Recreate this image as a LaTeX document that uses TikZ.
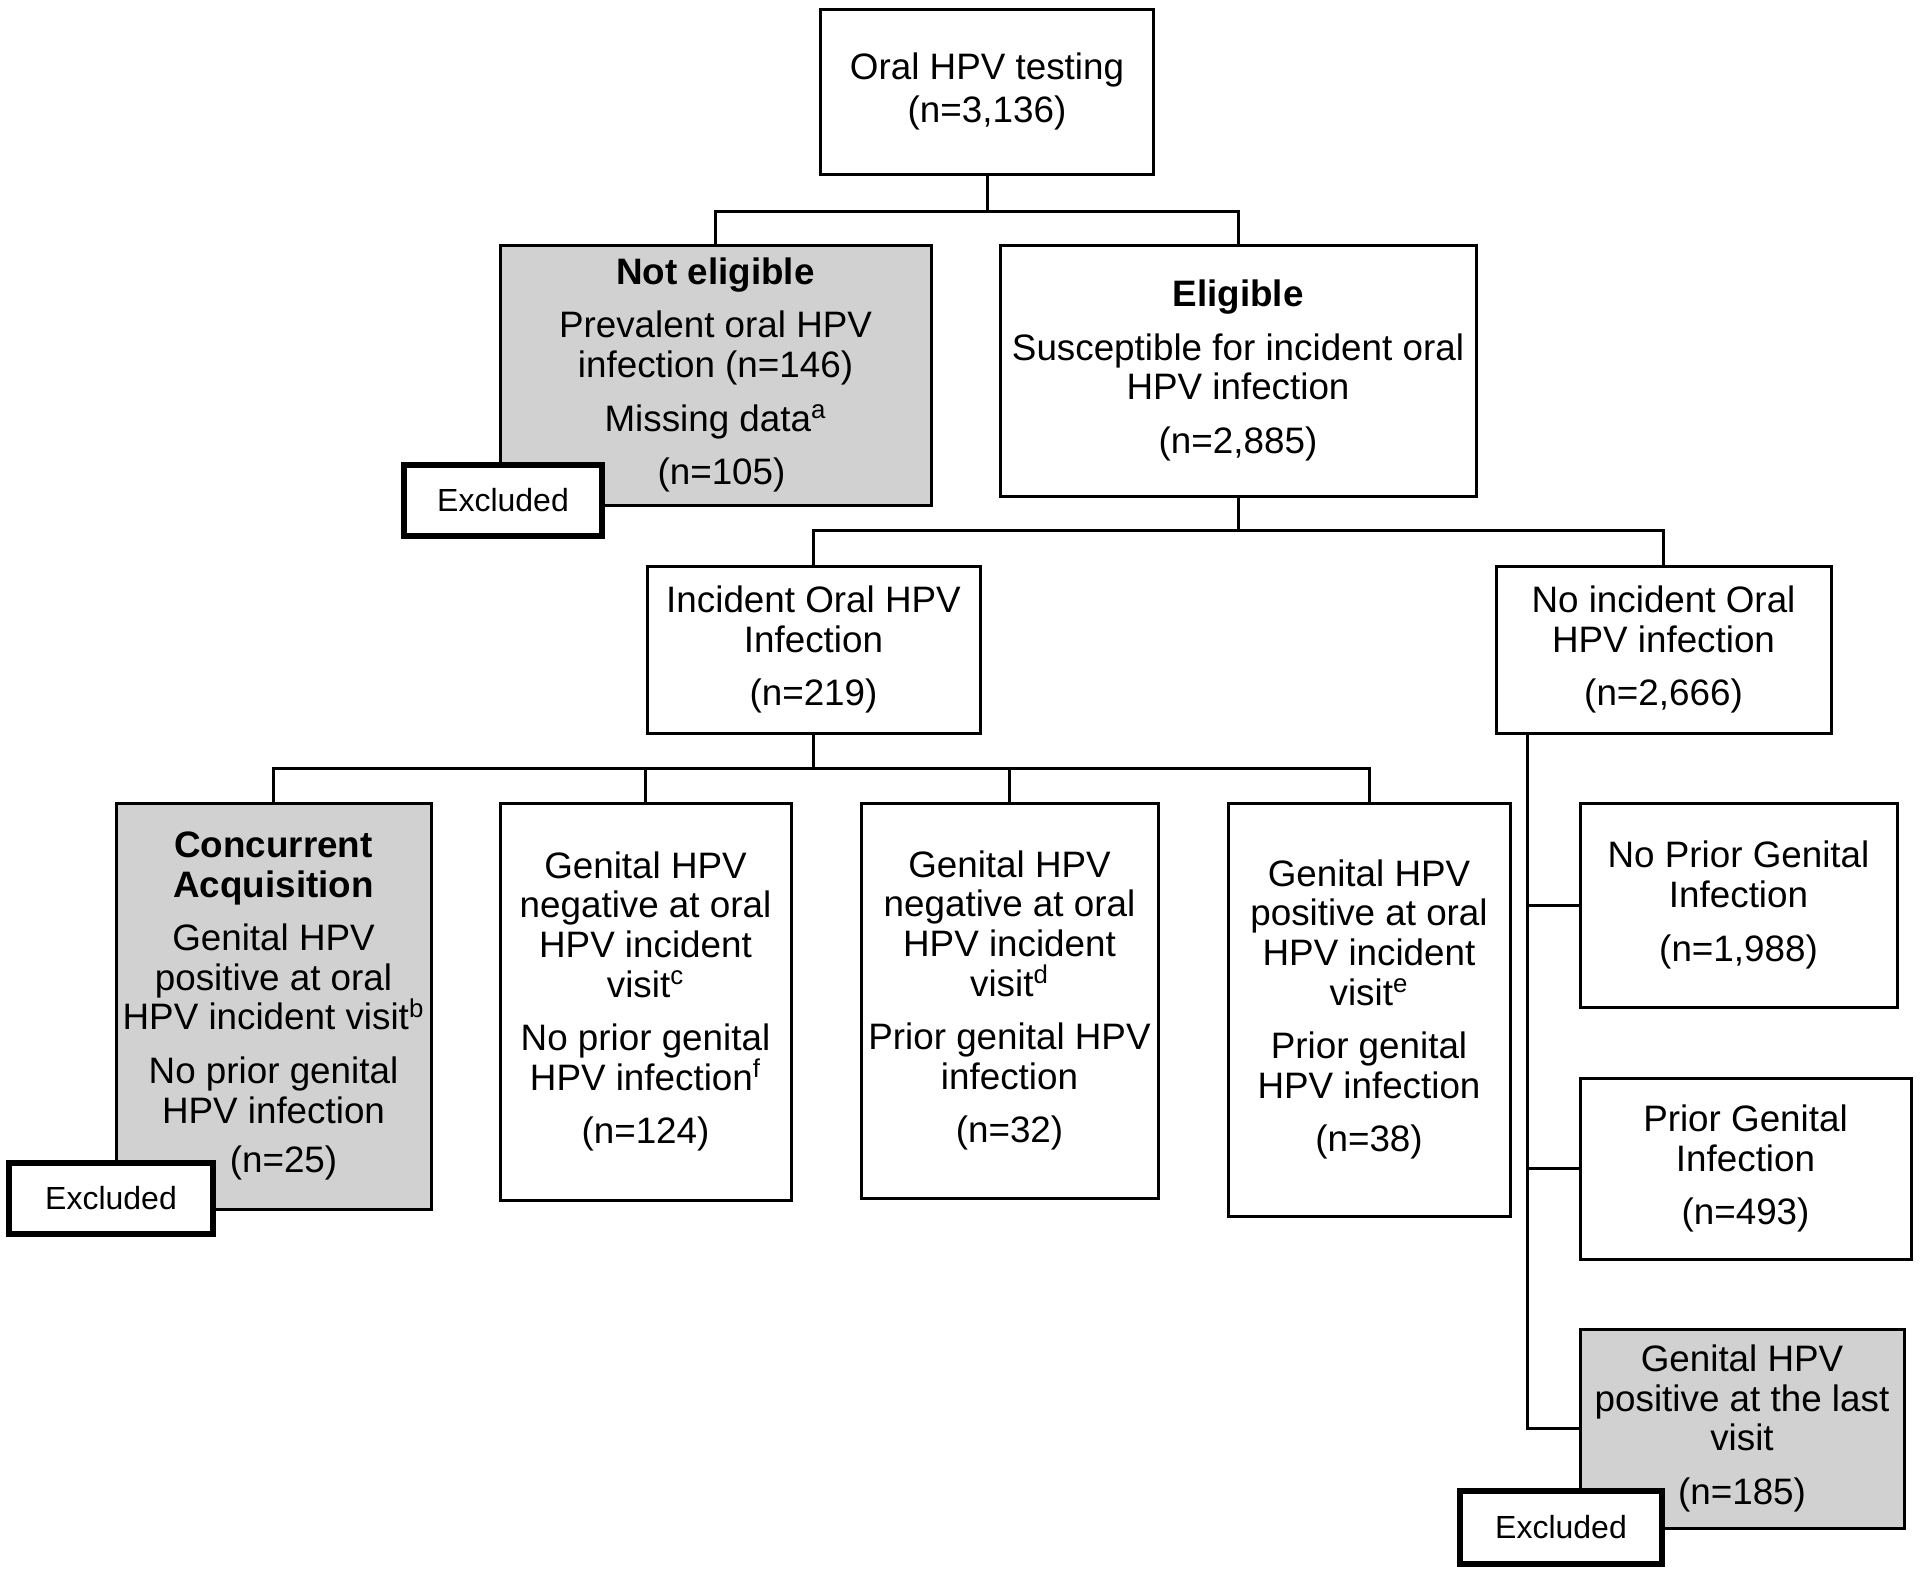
\documentclass[tikz,border=0pt]{standalone}
\usepackage{fontspec}
\setmainfont{Liberation Sans}
\usetikzlibrary{calc}
\definecolor{boxgrey}{RGB}{209,209,209}
\tikzset{every node/.style={inner sep=0pt,align=center,font=\fontsize{18.4}{19.8}\selectfont},
  box/.style={draw,line width=1.5pt,fill=white},
  greybox/.style={box,fill=boxgrey},
  exclbox/.style={draw,line width=2.6pt,fill=white,minimum height=35.5pt,font=\fontsize{16}{18}\selectfont},
  link/.style={line width=1.5pt}}

\begin{document}
\begin{tikzpicture}[x=0.5pt,y=-0.5pt]
  \useasboundingbox (0,0) rectangle (1920,1571);
  % top row
  \node[box,minimum width=166.5pt,minimum height=82.5pt] (test) at (987,91.5) {Oral HPV testing\\[2pt](n=3,136)};
  \node[greybox,minimum width=215.5pt,minimum height=130pt] (noteli) at (715.5,375) {\textbf{Not eligible}\\[7pt]Prevalent oral HPV\\infection (n=146)\\[7pt]Missing data\textsuperscript{a}\\[7pt]\hspace*{6pt}(n=105)};
  \node[box,minimum width=238pt,minimum height=125.5pt] (elig) at (1238,370.5) {\textbf{Eligible}\\[7pt]Susceptible for incident oral\\HPV infection\\[7pt](n=2,885)};
  \node[exclbox,minimum width=99pt] (excl1) at (503,500.5) {Excluded};
  % incident / no incident
  \node[box,minimum width=166.5pt,minimum height=83.5pt] (incid) at (813.5,649.5) {Incident Oral HPV\\Infection\\[7pt](n=219)};
  \node[box,minimum width=167.5pt,minimum height=83.5pt] (noinc) at (1663.5,649.5) {No incident Oral\\HPV infection\\[7pt](n=2,666)};
  % incident branches
  \node[greybox,minimum width=157.5pt,minimum height=203pt] (concur) at (273.5,1006) {\textbf{Concurrent}\\\textbf{Acquisition}\\[7pt]Genital HPV\\positive at oral\\HPV incident visit\textsuperscript{b}\\[7pt]No prior genital\\HPV infection\\[5pt]\hspace*{10pt}(n=25)};
  \node[box,minimum width=145.5pt,minimum height=198.5pt] (negno) at (645.5,1001.5) {Genital HPV\\negative at oral\\HPV incident\\visit\textsuperscript{c}\\[7pt]No prior genital\\HPV infection\textsuperscript{f}\\[7pt](n=124)};
  \node[box,minimum width=148.5pt,minimum height=197.5pt] (negprior) at (1009.5,1000.5) {Genital HPV\\negative at oral\\HPV incident\\visit\textsuperscript{d}\\[7pt]Prior genital HPV\\infection\\[7pt](n=32)};
  \node[box,minimum width=141pt,minimum height=206.5pt] (posprior) at (1369,1009.5) {Genital HPV\\positive at oral\\HPV incident\\visit\textsuperscript{e}\\[7pt]Prior genital\\HPV infection\\[7pt](n=38)};
  \node[exclbox,minimum width=102pt] (excl2) at (111,1198.5) {Excluded};
  % no incident branches
  \node[box,minimum width=158.5pt,minimum height=102pt] (noprior) at (1738.5,905) {No Prior Genital\\Infection\\[7pt](n=1,988)};
  \node[box,minimum width=165.5pt,minimum height=90.5pt] (prior) at (1745.5,1168.5) {Prior Genital\\Infection\\[7pt](n=493)};
  \node[greybox,minimum width=162pt,minimum height=99.5pt] (last) at (1742,1428.5) {Genital HPV\\positive at the last\\visit\\[7pt](n=185)};
  \node[exclbox,minimum width=101pt,minimum height=36.5pt] (excl3) at (1561,1527.5) {Excluded};
  % connectors
  \coordinate (j1) at (987,211);
  \coordinate (j2) at (1238,530);
  \coordinate (j3) at (813.5,768);
  \coordinate (sp) at ([xshift=16.5pt]noinc.south west);
  \draw[link] (test) -- (j1) (noteli.north) |- (j1) -| (elig.north);
  \draw[link] (elig) -- (j2) (incid.north) |- (j2) -| (noinc.north);
  \draw[link] (incid) -- (j3) (concur.north) |- (j3) -| (posprior.north);
  \draw[link] (negno.north) -- (negno.north |- j3) (negprior.north) -- (negprior.north |- j3);
  \draw[link] (sp) |- (last.west) (sp |- noprior.west) -- (noprior.west) (sp |- prior.west) -- (prior.west);
\end{tikzpicture}
\end{document}
